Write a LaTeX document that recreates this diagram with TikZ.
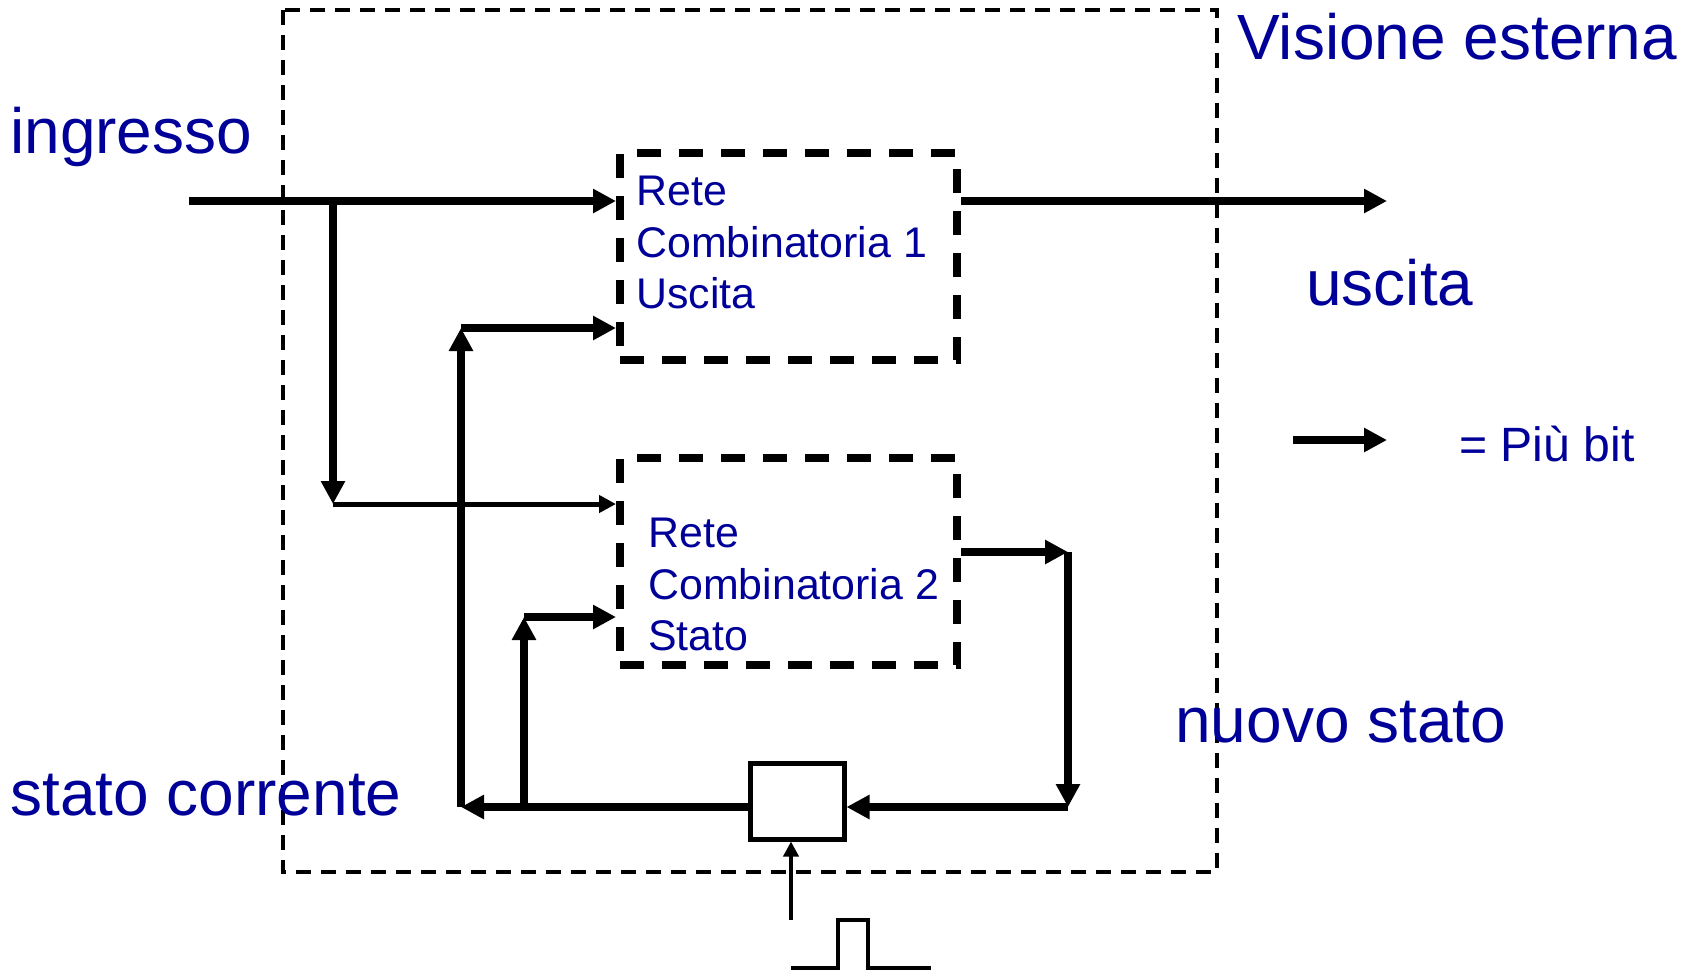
\documentclass[tikz,border=0pt]{standalone}
\usepackage{fontspec}
\setmainfont{Liberation Sans}
\usepackage{tikz}
\usetikzlibrary{arrows.meta,calc,positioning}
\definecolor{darkblue}{rgb}{0,0,0.6}

\begin{document}
\begin{tikzpicture}[x=0.2mm,y=-0.2mm,
    bus/.style={line width=1.6mm,-{Triangle[length=4.6mm,width=4.6mm]}},
    thinbus/.style={line width=1mm,-{Triangle[length=3.4mm,width=3.4mm]}},
    clkline/.style={line width=0.8mm,-{Triangle[length=3mm,width=3mm]}},
    rcbox/.style={draw,line width=1.6mm,dash pattern=on 4.8mm off 3.6mm,
      minimum width=67.4mm,minimum height=41.4mm,inner sep=0},
    regbox/.style={draw,line width=1mm,minimum width=18.8mm,minimum height=15.2mm,inner sep=0},
    bigtxt/.style={text=darkblue,font=\fontsize{36.4}{43}\selectfont,inner sep=0,anchor=base west},
    boxtxt/.style={text=darkblue,font=\fontsize{24.4}{29.3}\selectfont,align=left,inner sep=0,anchor=north west},
    legtxt/.style={text=darkblue,font=\fontsize{27.4}{32}\selectfont,inner sep=0,anchor=base west}]
  \useasboundingbox (0,0) rectangle (1692,972);
  \draw[line width=0.65mm,dash pattern=on 3mm off 2mm] (283,10) rectangle (1217,872);
  % reti e registro
  \node[rcbox] (rc1) at (788.5,256.5) {};
  \node[rcbox] (rc2) at (788.5,561) {};
  \node[regbox] (reg) at (797,801) {};
  \node[boxtxt] (t1) at (636,176) {Rete\\Combinatoria 1\\Uscita};
  \node[boxtxt] (t2) at (648,518) {Rete\\Combinatoria 2\\Stato};
  % testi
  \node[bigtxt] (vis) at (1237,59) {Visione esterna};
  \node[bigtxt] (ingr) at (10,153) {ingresso};
  \node[bigtxt] (usc) at (1306,305) {uscita};
  \node[bigtxt] (nuovo) at (1175,742) {nuovo stato};
  \node[bigtxt] (corr) at (10,815) {stato corrente};
  \node[legtxt] (leg) at (1459,461) {= Più bit};
  % punti
  \coordinate (in) at (189,201);
  \coordinate (j1) at (333,201);
  \coordinate (j2) at (333,504);
  \coordinate (out) at (1387,201);
  \coordinate (n1) at (1068,552);
  \coordinate (n2) at (1068,807);
  \coordinate (s1) at (461,807);
  \coordinate (s2) at (461,328);
  \coordinate (s3) at (524,807);
  \coordinate (s4) at (524,617);
  \coordinate (clk) at (791,920);
  \coordinate (l1) at (1293,440);
  \coordinate (l2) at (1387,440);
  % collegamenti
  \draw[bus] (in) -- (rc1.west |- in);
  \draw[bus] (j1) -- (j2);
  \draw[thinbus] (j2) -- (rc2.west |- j2);
  \draw[bus] (rc1.east |- in) -- (out);
  \draw[bus] (rc2.east |- n1) -- (n1);
  \draw[bus] (n1) -- (n2);
  \draw[bus] (n2) -- (reg.east |- n2);
  \draw[bus] (reg.west |- n2) -- (s1);
  \draw[bus] (s1) -- (s2);
  \draw[bus] (s2) -- (rc1.west |- s2);
  \draw[bus] (s3) -- (s4);
  \draw[bus] (s4) -- (rc2.west |- s4);
  \draw[clkline] (clk) -- (clk |- reg.south);
  \draw[line width=0.8mm] (791,968) -- ++(47,0) -- ++(0,-48) -- ++(30,0) -- ++(0,48) -- ++(63,0);
  \draw[bus] (l1) -- (l2);
\end{tikzpicture}
\end{document}
